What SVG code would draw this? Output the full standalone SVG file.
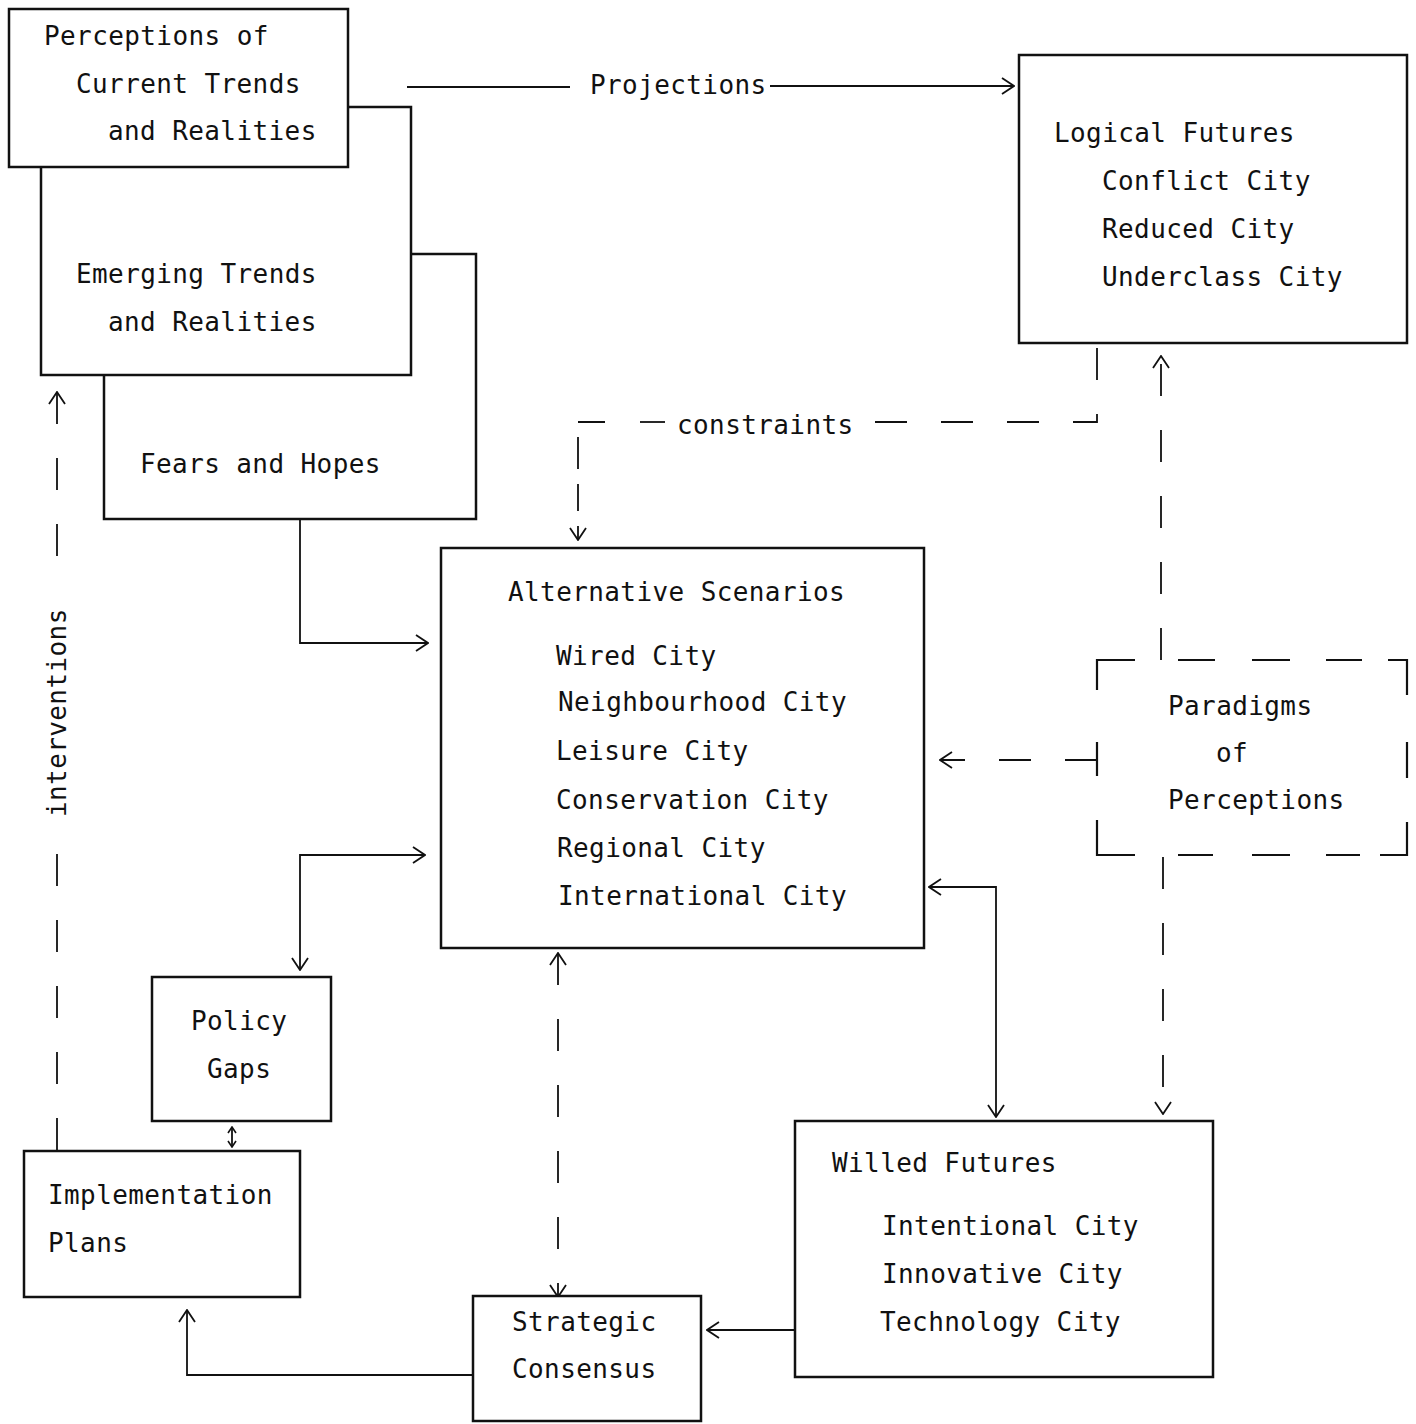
<svg xmlns="http://www.w3.org/2000/svg" width="1416" height="1424" viewBox="0 0 1416 1424">
<defs>
<style>
.box{fill:#fff;stroke:#111;stroke-width:2.5}
.dbox{fill:none;stroke:#111;stroke-width:2.2}
.c{fill:none;stroke:#111;stroke-width:1.8}
.d{fill:none;stroke:#111;stroke-width:1.8;stroke-dasharray:32 34}
text{font-family:"DejaVu Sans Mono","Liberation Mono",monospace;font-size:26px;fill:#111;letter-spacing:0.4px}
</style>
<marker id="ah" viewBox="0 0 14 18" refX="13" refY="9" markerWidth="14" markerHeight="18" markerUnits="userSpaceOnUse" orient="auto-start-reverse">
<path d="M1,1 L13,9 L1,17" fill="none" stroke="#111" stroke-width="1.8"/>
</marker>
<marker id="sm" viewBox="0 0 8 10" refX="7" refY="5" markerWidth="8" markerHeight="10" markerUnits="userSpaceOnUse" orient="auto-start-reverse">
<path d="M1,1 L7,5 L1,9" fill="none" stroke="#111" stroke-width="1.6"/>
</marker>
</defs>
<rect width="1416" height="1424" fill="#fff"/>

<g id="connectors">
<line class="c" x1="407" y1="87" x2="570" y2="87"/>
<line class="c" x1="770" y1="86" x2="1014" y2="86" marker-end="url(#ah)"/>
<polyline class="d" points="1097,348 1097,422 870,422"/>
<line class="c" x1="665" y1="422" x2="640" y2="422"/>
<polyline class="d" points="605,422 578,422 578,540" marker-end="url(#ah)" style="stroke-dasharray:27 15 32 15"/>
<line class="d" x1="1161" y1="660" x2="1161" y2="356" marker-end="url(#ah)"/>
<line class="d" x1="1163" y1="857" x2="1163" y2="1114" marker-end="url(#ah)"/>
<line class="d" x1="1097" y1="760" x2="940" y2="760" marker-end="url(#ah)"/>
<polyline class="c" points="300,519 300,643 428,643" marker-end="url(#ah)"/>
<polyline class="c" points="425,855 300,855 300,970" marker-start="url(#ah)" marker-end="url(#ah)"/>
<line class="c" x1="232" y1="1147" x2="232" y2="1127" marker-start="url(#sm)" marker-end="url(#sm)"/>
<line class="d" x1="57" y1="1150" x2="57" y2="392" marker-end="url(#ah)"/>
<polyline class="c" points="473,1375 187,1375 187,1310" marker-end="url(#ah)"/>
<line class="d" x1="558" y1="953" x2="558" y2="1297" marker-start="url(#ah)" marker-end="url(#ah)"/>
<line class="c" x1="795" y1="1330" x2="707" y2="1330" marker-end="url(#ah)"/>
<polyline class="c" points="929,887 996,887 996,1117" marker-start="url(#ah)" marker-end="url(#ah)"/>
</g>

<g id="fears-hopes">
<rect class="box" x="104" y="254" width="372" height="265"/>
<text x="140" y="473">Fears and Hopes</text>
</g>
<g id="emerging-trends">
<rect class="box" x="41" y="107" width="370" height="268"/>
<text x="76" y="283">Emerging Trends</text>
<text x="108" y="331">and Realities</text>
</g>
<g id="current-trends">
<rect class="box" x="9" y="9" width="339" height="158"/>
<text x="44" y="45">Perceptions of</text>
<text x="76" y="93">Current Trends</text>
<text x="108" y="140">and Realities</text>
</g>
<g id="projections-label"><rect x="574" y="70" width="192" height="34" fill="#fff"/><text x="590" y="94">Projections</text></g>
<g id="constraints-label"><text x="677" y="434">constraints</text></g>
<g id="interventions-label"><rect x="42" y="578" width="30" height="256" fill="#fff"/><text transform="translate(66,817) rotate(-90)">interventions</text></g>

<g id="logical-futures">
<rect class="box" x="1019" y="55" width="388" height="288"/>
<text x="1054" y="142">Logical Futures</text>
<text x="1102" y="190">Conflict City</text>
<text x="1102" y="238">Reduced City</text>
<text x="1102" y="286">Underclass City</text>
</g>
<g id="alternative-scenarios">
<rect class="box" x="441" y="548" width="483" height="400"/>
<text x="508" y="601">Alternative Scenarios</text>
<text x="556" y="665">Wired City</text>
<text x="558" y="711">Neighbourhood City</text>
<text x="556" y="760">Leisure City</text>
<text x="556" y="809">Conservation City</text>
<text x="557" y="857">Regional City</text>
<text x="558" y="905">International City</text>
</g>
<g id="paradigms">
<rect x="1099" y="662" width="306" height="191" fill="#fff"/>
<path class="dbox" d="M1097,690 V660 H1135 M1178,660 H1215 M1252,660 H1290 M1326,660 H1362 M1388,660 H1407 V695 M1407,742 V778 M1407,822 V855 H1380 M1360,855 H1326 M1290,855 H1252 M1213,855 H1178 M1135,855 H1097 V820 M1097,742 V776"/>
<text x="1168" y="715">Paradigms</text>
<text x="1216" y="762">of</text>
<text x="1168" y="809">Perceptions</text>
</g>
<g id="policy-gaps">
<rect class="box" x="152" y="977" width="179" height="144"/>
<text x="191" y="1030">Policy</text>
<text x="207" y="1078">Gaps</text>
</g>
<g id="implementation-plans">
<rect class="box" x="24" y="1151" width="276" height="146"/>
<text x="48" y="1204">Implementation</text>
<text x="48" y="1252">Plans</text>
</g>
<g id="strategic-consensus">
<rect class="box" x="473" y="1296" width="228" height="125"/>
<text x="512" y="1331">Strategic</text>
<text x="512" y="1378">Consensus</text>
</g>
<g id="willed-futures">
<rect class="box" x="795" y="1121" width="418" height="256"/>
<text x="832" y="1172">Willed Futures</text>
<text x="882" y="1235">Intentional City</text>
<text x="882" y="1283">Innovative City</text>
<text x="880" y="1331">Technology City</text>
</g>
</svg>
